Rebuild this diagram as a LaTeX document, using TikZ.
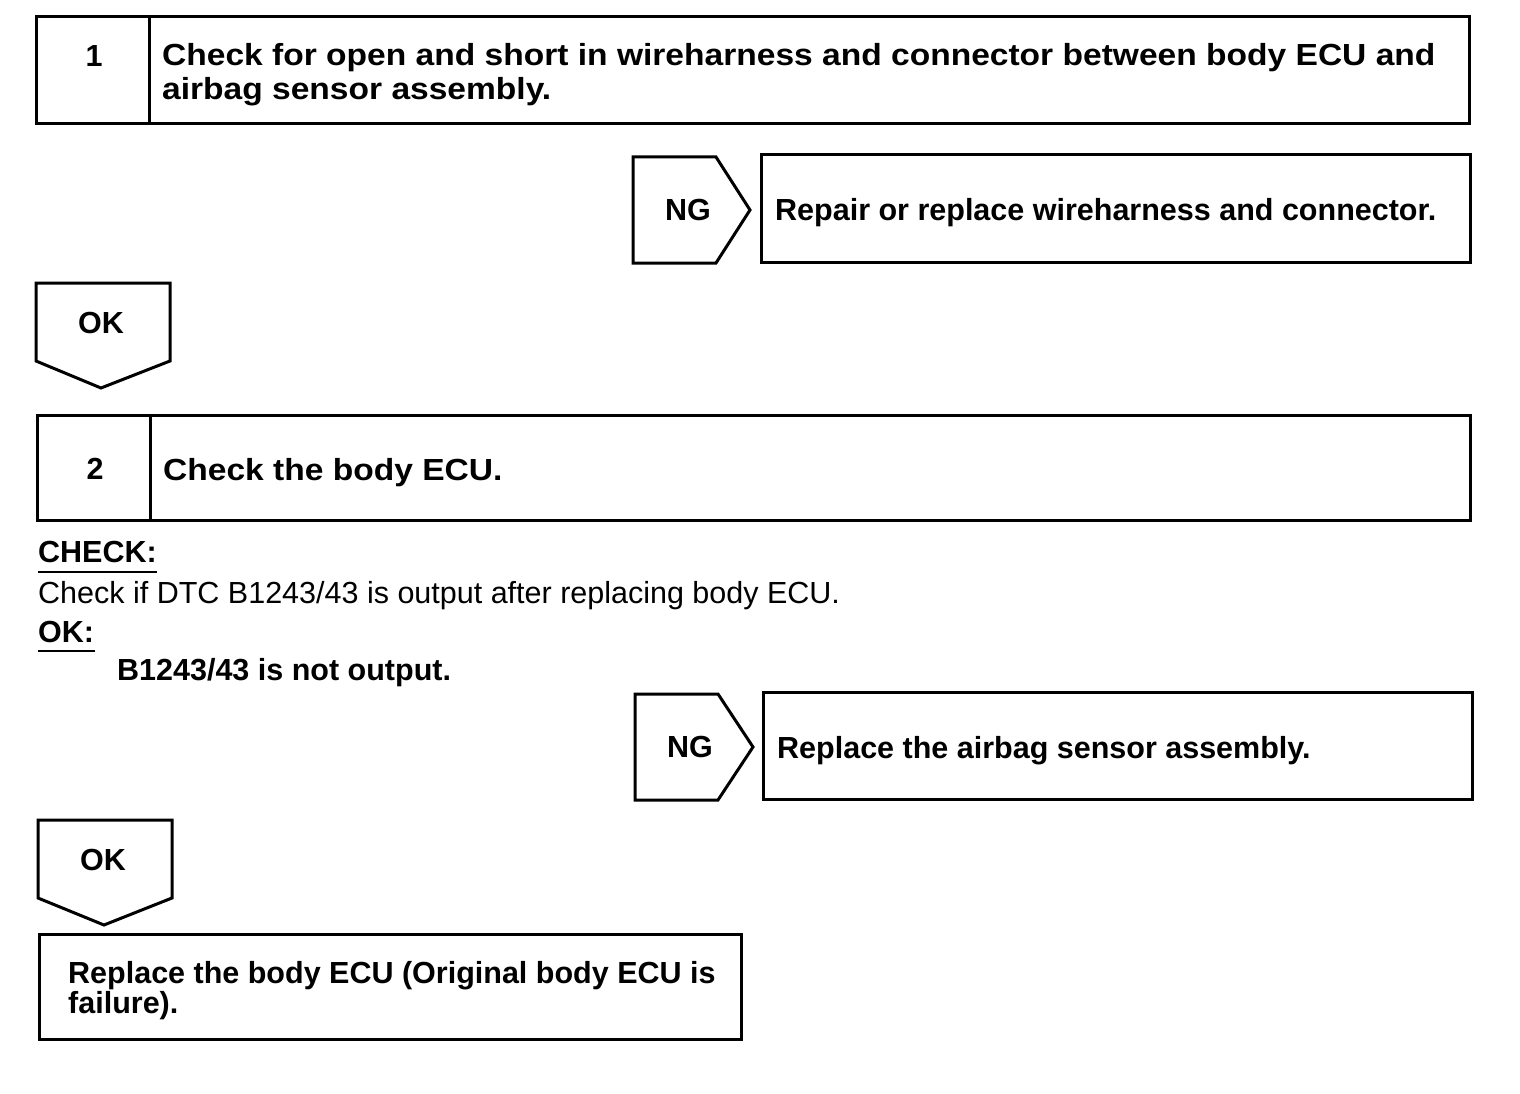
\documentclass[tikz,border=0pt]{standalone}
\usepackage{fontspec}
\setmainfont{Liberation Sans}
\newfontfamily\hdrfont[FakeStretch=1.1]{Liberation Sans}
\begin{document}
\begin{tikzpicture}[x=1pt,y=-1pt,
  frame/.style={draw=black,line width=3pt,line join=miter},
  bt/.style={font=\bfseries\fontsize{30.5}{34}\selectfont,inner sep=0pt},
  rt/.style={font=\fontsize{30.5}{34}\selectfont,inner sep=0pt},
  ht/.style={font=\hdrfont\bfseries\fontsize{30.5}{34}\selectfont,inner sep=0pt,anchor=base west},
  lbl/.style={bt,anchor=base west},
]
\useasboundingbox (0,0) rectangle (1520,1094);
% ---- Step 1
\draw[frame] (36,17) rectangle (1469,124);
\draw[frame] (149,17) -- (149,124);
\node[bt] (n1) at (94,56) {1};
\node[ht] (t1a) at (162,66) {Check for open and short in wireharness and connector between body ECU and};
\node[ht] (t1b) at (162,100) {airbag sensor assembly.};
% ---- NG 1
\draw[frame] (633,157) -- (716,157) -- (750,210) -- (716,263) -- (633,263) -- cycle;
\node[bt] (ng1) at (688,210) {NG};
\draw[frame] (761,155) rectangle (1470,262);
\node[lbl] (r1) at (775,221) {Repair or replace wireharness and connector.};
% ---- OK 1
\draw[frame] (36,283) -- (170,283) -- (170,361) -- (101,388) -- (36,361) -- cycle;
\node[bt] (ok1) at (101,323) {OK};
% ---- Step 2
\draw[frame] (37,415) rectangle (1470,520);
\draw[frame] (150,415) -- (150,520);
\node[bt] (n2) at (95,469) {2};
\node[ht] (t2) at (163,480) {Check the body ECU.};
% ---- check text
\node[lbl] (chk) at (38,562) {CHECK:};
\draw[line width=2pt] (38,572) -- (157,572);
\node[rt,anchor=base west] (chkt) at (38,603) {Check if DTC B1243/43 is output after replacing body ECU.};
\node[lbl] (okl) at (38,642) {OK:};
\draw[line width=2pt] (38,651) -- (95,651);
\node[lbl] (okt) at (117,680) {B1243/43 is not output.};
% ---- NG 2
\draw[frame] (635,694) -- (718,694) -- (753,747) -- (718,800) -- (635,800) -- cycle;
\node[bt] (ng2) at (690,747) {NG};
\draw[frame] (763,692) rectangle (1472,799);
\node[lbl] (r2) at (777,758) {Replace the airbag sensor assembly.};
% ---- OK 2
\draw[frame] (38,820) -- (172,820) -- (172,898) -- (104,925) -- (38,898) -- cycle;
\node[bt] (ok2) at (103,860) {OK};
% ---- final
\draw[frame] (39,934) rectangle (741,1039);
\node[lbl] (f1) at (68,983) {Replace the body ECU (Original body ECU is};
\node[lbl] (f2) at (68,1013) {failure).};
\end{tikzpicture}
\end{document}
